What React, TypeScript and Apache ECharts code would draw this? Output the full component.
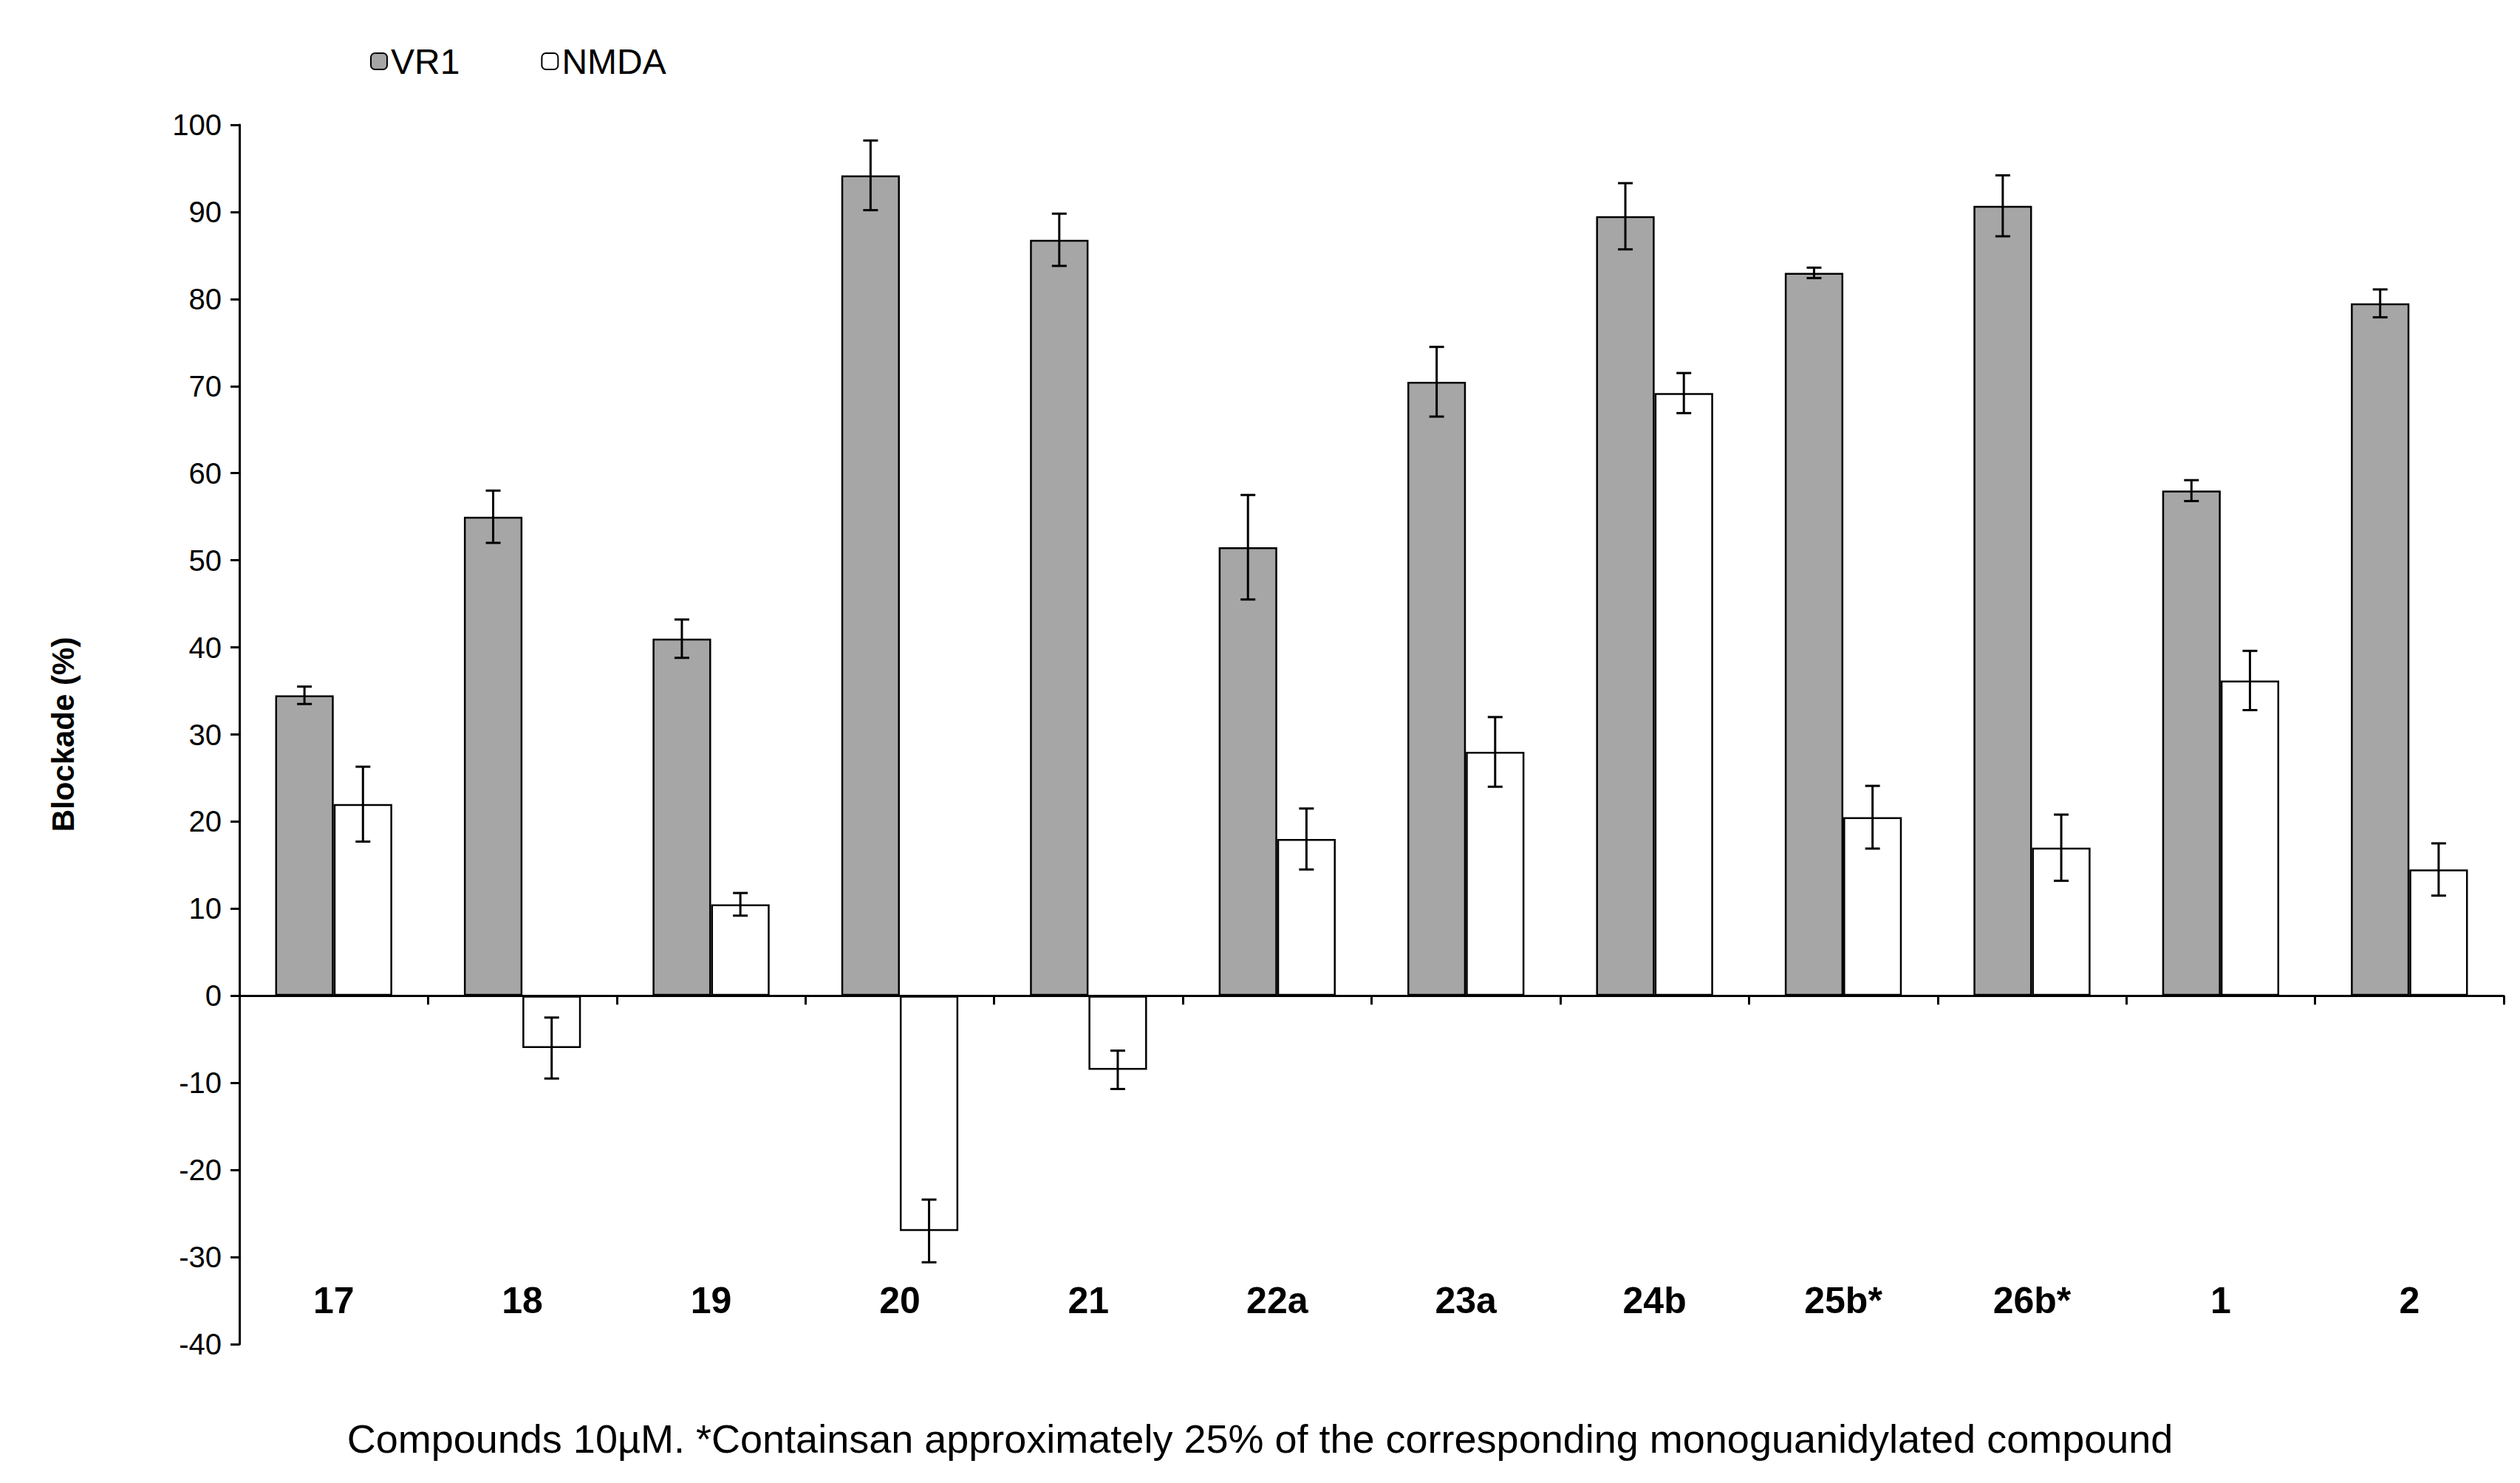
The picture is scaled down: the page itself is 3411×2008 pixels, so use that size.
import React, { useEffect, useRef } from 'react';
import * as echarts from 'echarts';

const categories = ['17', '18', '19', '20', '21', '22a', '23a', '24b', '25b*', '26b*', '1', '2'];
const vr1 = [34.5, 55, 41, 94.2, 86.8, 51.5, 70.5, 89.5, 83, 90.7, 58, 79.5];
const vr1Err = [1, 3, 2.2, 4, 3, 6, 4, 3.8, 0.6, 3.5, 1.2, 1.6];
const nmda = [22, -6, 10.5, -27, -8.5, 18, 28, 69.2, 20.5, 17, 36.2, 14.5];
const nmdaErr = [4.3, 3.5, 1.3, 3.6, 2.2, 3.5, 4, 2.3, 3.6, 3.8, 3.4, 3];
const yTicks = { min: -40, max: 100, interval: 10 };

const FONT = 'Liberation Sans, Arial, sans-serif';
const BAND = 0.62;

function errorSeries(name: string, values: number[], errs: number[], side: number) {
  return {
    type: 'custom',
    name: name + ' err',
    silent: true,
    z: 10,
    data: values.map((v, i) => [i, v, errs[i]]),
    renderItem: (params: any, api: any) => {
      const i = api.value(0);
      const v = api.value(1);
      const e = api.value(2);
      const band = api.size([1, 0])[0];
      const off = side * band * BAND / 4;
      const top = api.coord([i, v + e]);
      const bot = api.coord([i, v - e]);
      const x = top[0] + off;
      const cap = 10;
      const style = { stroke: '#000', lineWidth: 3 };
      return {
        type: 'group',
        children: [
          { type: 'line', shape: { x1: x, y1: top[1], x2: x, y2: bot[1] }, style },
          { type: 'line', shape: { x1: x - cap, y1: top[1], x2: x + cap, y2: top[1] }, style },
          { type: 'line', shape: { x1: x - cap, y1: bot[1], x2: x + cap, y2: bot[1] }, style },
        ],
      };
    },
  };
}

const App: React.FC = () => {
  const ref = useRef<HTMLDivElement>(null);
  useEffect(() => {
    if (!ref.current) return;
    const chart = echarts.init(ref.current, null, { renderer: 'svg' });
    chart.setOption({
      animation: false,
      backgroundColor: '#fff',
      textStyle: { fontFamily: FONT },
      legend: {
        left: 488,
        top: 46,
        itemWidth: 22,
        itemHeight: 22,
        itemGap: 110,
        textStyle: { fontSize: 48, color: '#000', fontFamily: FONT },
        data: [
          { name: 'VR1', itemStyle: { color: '#a6a6a6', borderColor: '#000', borderWidth: 2 } },
          { name: 'NMDA', itemStyle: { color: '#fff', borderColor: '#000', borderWidth: 2 } },
        ],
      },
      title: {
        text: 'Compounds 10\u00b5M. *Containsan approximately 25% of the corresponding monoguanidylated compound',
        left: 'center',
        bottom: 18,
        textStyle: { fontSize: 54, fontWeight: 'normal', color: '#000', fontFamily: FONT },
      },
      grid: { left: 316, right: 14, top: 161, bottom: 178 },
      xAxis: [
        {
          type: 'category',
          data: categories,
          axisLine: { onZero: true, lineStyle: { color: '#000', width: 3 } },
          axisTick: { show: true, length: 12, lineStyle: { color: '#000', width: 3 } },
          axisLabel: { show: false },
        },
        {
          type: 'category',
          data: categories,
          position: 'bottom',
          axisLine: { show: false },
          axisTick: { show: false },
          axisLabel: { margin: -84, fontSize: 50, fontWeight: 'bold', color: '#000', fontFamily: FONT },
        },
      ],
      yAxis: {
        type: 'value',
        min: yTicks.min,
        max: yTicks.max,
        interval: yTicks.interval,
        name: 'Blockade (%)',
        nameLocation: 'middle',
        nameGap: 218,
        nameTextStyle: { fontSize: 42, fontWeight: 'bold', color: '#000', fontFamily: FONT },
        axisLine: { show: true, lineStyle: { color: '#000', width: 3 } },
        axisTick: { show: true, length: 12, lineStyle: { color: '#000', width: 3 } },
        axisLabel: { fontSize: 40, color: '#000', margin: 24 },
        splitLine: { show: false },
      },
      series: [
        {
          name: 'VR1',
          type: 'bar',
          data: vr1,
          barGap: '0%',
          barCategoryGap: '38%',
          itemStyle: { color: '#a6a6a6', borderColor: '#000', borderWidth: 2.5 },
        },
        {
          name: 'NMDA',
          type: 'bar',
          data: nmda,
          itemStyle: { color: '#fff', borderColor: '#000', borderWidth: 2.5 },
        },
        errorSeries('VR1', vr1, vr1Err, -1),
        errorSeries('NMDA', nmda, nmdaErr, 1),
      ],
    });
    return () => chart.dispose();
  }, []);
  return <div ref={ref} style={{ width: 3395, height: 1990 }} />;
};

export default App;
